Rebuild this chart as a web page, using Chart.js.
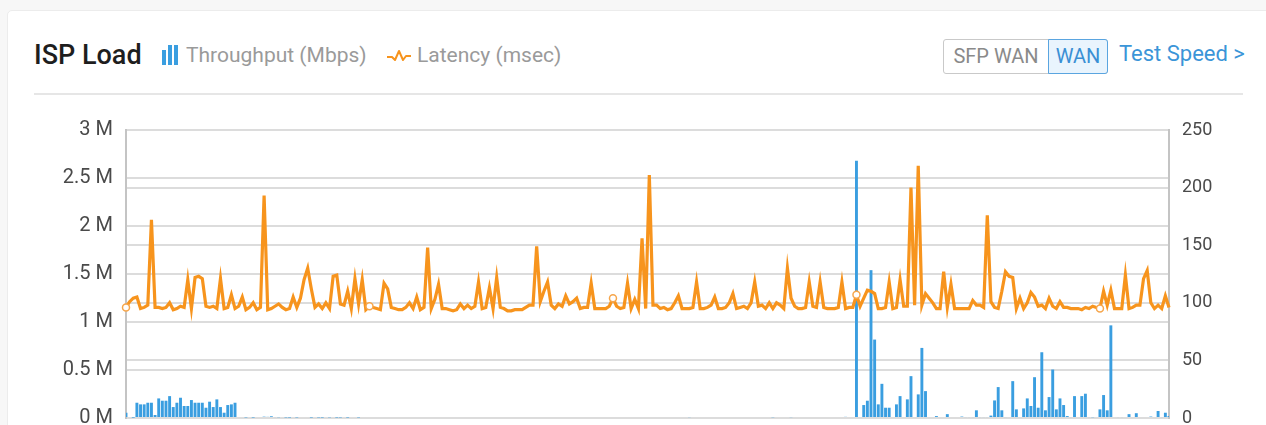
<!DOCTYPE html>
<html>
<head>
<meta charset="utf-8">
<title>ISP Load</title>
<script src="https://cdn.jsdelivr.net/npm/chart.js@4.4.1/dist/chart.umd.min.js"></script>
<style>
    html, body { margin: 0; padding: 0; }
    body {
        width: 1266px; height: 425px; overflow: hidden;
        background: #f7f7f7;
        font-family: Roboto, "Noto Sans", sans-serif;
        position: relative;
    }
    .card {
        position: absolute; left: 7px; top: 10px; width: 1270px; height: 440px;
        background: #fff; border: 1px solid #ececec; border-radius: 5px;
    }
    .title {
        position: absolute; left: 34px; top: 38px;
        font-size: 27px; font-weight: 500; color: #1e1e1e; line-height: 34px;
    }
    .legend {
        position: absolute; top: 40px; height: 30px; line-height: 30px;
        font-size: 21px; color: #9a9a9a; white-space: nowrap;
    }
    .legend svg { position: absolute; top: 1px; }
    .legend span { position: absolute; top: 0; }
    .switch {
        position: absolute; left: 943px; top: 39px; width: 163px; height: 33px;
        border: 1px solid #c9c9c9; border-radius: 3px; font-size: 20px; line-height: 33px;
    }
    .switch .opt { position: absolute; top: 0; height: 33px; text-align: center; color: #8a8a8a; }
    .switch .opt.off { left: 0; width: 104px; border-right: 1px solid #c9c9c9; }
    .switch .opt.on {
        left: 104px; width: 58px; top: -1px; height: 33px;
        color: #3a8fd4; background: #e9f4fd; border: 1px solid #5aa5e0;
        border-radius: 0 3px 3px 0;
    }
    .test {
        position: absolute; left: 1119px; top: 39px; line-height: 30px;
        font-size: 22px; color: #3b95d8;
    }
    .divider {
        position: absolute; left: 34px; top: 93px; width: 1209px; height: 2px; background: #e6e6e6;
    }
    #chartWrap { position: absolute; left: 0; top: 105px; width: 1266px; height: 338px; }
    #chartWrap canvas { display: block; }
</style>
</head>
<body>
<div class="card"></div>
<div class="title">ISP Load</div>
<div class="legend" style="left:160px">
    <svg width="20" height="28" viewBox="0 0 20 28">
        <rect x="2" y="9" width="4" height="15" fill="#3a9ee0"/>
        <rect x="8" y="4" width="4" height="20" fill="#3a9ee0"/>
        <rect x="14" y="4" width="4" height="20" fill="#3a9ee0"/>
    </svg>
    <span style="left:26px">Throughput (Mbps)</span>
</div>
<div class="legend" style="left:386px">
    <svg width="26" height="28" viewBox="0 0 26 28">
        <polyline points="1,16 6,16 9,19 13,10 17,19 20,15 25,15" fill="none" stroke="#f7941d" stroke-width="2" stroke-linejoin="round"/>
    </svg>
    <span style="left:31px">Latency (msec)</span>
</div>
<div class="switch">
    <div class="opt off">SFP WAN</div>
    <div class="opt on">WAN</div>
</div>
<div class="test">Test Speed &gt;</div>
<div class="divider"></div>
<div id="chartWrap"><canvas id="ispLoad" width="1266" height="338"></canvas></div>

<script>
// 5-minute samples over one day
const timeLabels = [];
for (let m = 0; m < 24 * 60; m += 5) {
    timeLabels.push(String(Math.floor(m / 60)).padStart(2, '0') + ':' + String(m % 60).padStart(2, '0'));
}

// WAN throughput, bits per second
const throughput = [
    55000, 0, 4000, 159000, 142000, 142000, 159000, 159000, 31000, 204000, 180000, 180000, 228000, 114000, 159000, 211000, 125000, 125000, 187000, 159000, 159000, 159000, 107000, 170000,
    114000, 194000, 114000, 55000, 135000, 142000, 159000, 0, 0, 6000, 0, 5000, 0, 0, 14000, 12000, 18000, 10000, 8000, 0, 6000, 5000, 0, 6000,
    0, 0, 0, 5000, 0, 6000, 5000, 0, 7000, 0, 5000, 6000, 0, 5000, 0, 0, 6000, 0, 0, 0, 0, 0, 0, 0,
    0, 0, 0, 0, 0, 0, 0, 0, 0, 0, 0, 0, 0, 0, 0, 0, 0, 0, 0, 0, 0, 0, 0, 0,
    0, 0, 0, 0, 0, 0, 0, 0, 0, 0, 0, 0, 0, 0, 0, 0, 0, 0, 0, 0, 0, 0, 0, 0,
    0, 0, 0, 0, 0, 0, 0, 0, 0, 0, 0, 0, 0, 0, 0, 0, 0, 0, 0, 0, 0, 0, 0, 0,
    0, 0, 0, 0, 0, 0, 0, 0, 0, 0, 0, 9000, 0, 0, 0, 0, 0, 0, 0, 0, 0, 0, 0, 0,
    0, 0, 0, 0, 0, 0, 0, 0, 0, 0, 8000, 0, 0, 0, 0, 9000, 0, 0, 0, 0, 0, 0, 0, 0,
    0, 0, 0, 0, 0, 0, 12000, 0, 0, 2680000, 0, 135000, 180000, 1540000, 817000, 142000, 356000, 107000, 107000, 0, 142000, 228000, 0, 194000,
    436000, 0, 246000, 730000, 280000, 0, 0, 20000, 0, 0, 40000, 0, 0, 0, 15000, 10000, 10000, 10000, 80000, 10000, 10000, 10000, 25000, 183000,
    322000, 80000, 10000, 0, 384000, 90000, 0, 100000, 204000, 125000, 425000, 107000, 685000, 80000, 218000, 505000, 90000, 204000, 135000, 20000, 10000, 228000, 0, 228000,
    253000, 10000, 8000, 0, 90000, 239000, 80000, 965000, 0, 10000, 10000, 0, 40000, 0, 50000, 0, 0, 0, 15000, 0, 73000, 10000, 55000, 20000
];

// round-trip latency, msec
const latency = [
    96, 101, 104, 105, 95, 96, 98, 172, 96, 96, 95, 96, 100, 94, 95, 97, 96, 120, 95, 122, 123, 121, 97, 96,
    97, 95, 121, 95, 96, 107, 95, 97, 105, 94, 96, 100, 94, 96, 193, 94, 95, 97, 99, 96, 94, 95, 105, 96,
    104, 120, 130, 112, 96, 99, 95, 100, 95, 123, 124, 99, 98, 110, 95, 121, 99, 120, 94, 97, 96, 95, 94, 117,
    112, 96, 95, 94, 94, 96, 100, 95, 105, 94, 96, 148, 95, 103, 116, 95, 95, 94, 93, 94, 99, 95, 98, 95,
    97, 118, 95, 96, 113, 95, 122, 96, 95, 93, 93, 94, 94, 94, 96, 98, 98, 149, 101, 110, 118, 98, 95, 99,
    97, 106, 99, 101, 104, 95, 96, 96, 117, 95, 95, 95, 95, 97, 104, 97, 95, 96, 117, 95, 103, 95, 156, 95,
    211, 98, 98, 95, 96, 94, 95, 100, 106, 95, 95, 95, 96, 118, 95, 95, 96, 98, 105, 95, 95, 96, 100, 108,
    95, 96, 97, 95, 100, 118, 97, 98, 95, 100, 95, 100, 98, 95, 130, 104, 97, 95, 95, 96, 118, 97, 96, 118,
    96, 95, 95, 95, 96, 118, 95, 96, 96, 107, 97, 104, 111, 110, 108, 95, 95, 96, 118, 95, 96, 120, 97, 97,
    200, 98, 219, 98, 108, 104, 100, 95, 95, 127, 96, 116, 95, 95, 95, 95, 95, 102, 98, 98, 96, 176, 101, 96,
    95, 110, 127, 123, 122, 95, 104, 95, 100, 109, 105, 97, 98, 95, 104, 97, 95, 101, 96, 96, 95, 95, 95, 94,
    96, 95, 97, 96, 95, 110, 98, 111, 95, 95, 95, 124, 95, 96, 98, 98, 121, 128, 100, 95, 98, 95, 106, 96
];

// samples that get a hollow marker on the latency line
const markedSamples = [0, 67, 134, 201, 268];

const leftTicks = [0, 500000, 1000000, 1500000, 2000000, 2500000, 3000000];
const rightTicks = [0, 50, 100, 150, 200, 250];

const BLUE = '#3a9ee0';
const ORANGE = '#f7941d';
const GRID = '#dcdcdc';
const AXIS_LEFT = 126;
const AXIS_RIGHT = 1169;

new Chart(document.getElementById('ispLoad').getContext('2d'), {
    type: 'bar',
    data: {
        labels: timeLabels,
        datasets: [
            {
                type: 'line',
                label: 'Latency (msec)',
                data: latency,
                yAxisID: 'y1',
                order: 0,
                borderColor: ORANGE,
                borderWidth: 3.2,
                tension: 0,
                pointRadius: ctx => markedSamples.includes(ctx.dataIndex) ? 3.5 : 0,
                pointBackgroundColor: '#fff',
                pointBorderColor: '#f6a64c',
                pointBorderWidth: 1.5
            },
            {
                label: 'Throughput (Mbps)',
                data: throughput,
                yAxisID: 'y',
                order: 1,
                backgroundColor: BLUE,
                categoryPercentage: 1,
                barPercentage: 0.8
            }
        ]
    },
    options: {
        responsive: false,
        animation: false,
        devicePixelRatio: 1,
        layout: { padding: { top: 18, bottom: 1, left: 0, right: 0 } },
        plugins: { legend: { display: false }, tooltip: { enabled: false } },
        scales: {
            x: { display: false, offset: false, grid: { offset: false } },
            y: {
                position: 'left',
                min: 0, max: 3000000,
                afterBuildTicks(scale) { scale.ticks = leftTicks.map(v => ({ value: v })); },
                afterFit(scale) { scale.width = AXIS_LEFT; },
                ticks: {
                    color: '#4a4a4a', font: { family: 'Roboto', size: 20 }, padding: 13,
                    callback: v => (v / 1e6) + ' M'
                },
                grid: { color: GRID, lineWidth: 2, drawTicks: false },
                border: { color: '#c4c4c4', width: 2 }
            },
            y1: {
                position: 'right',
                min: 0, max: 250,
                afterBuildTicks(scale) { scale.ticks = rightTicks.map(v => ({ value: v })); },
                afterFit(scale) { scale.width = 1266 - AXIS_RIGHT; },
                ticks: { color: '#4a4a4a', font: { family: 'Roboto', size: 18 }, padding: 13 },
                grid: { color: GRID, lineWidth: 2, drawTicks: false },
                border: { color: '#c4c4c4', width: 2 }
            }
        }
    }
});
</script>
</body>
</html>
